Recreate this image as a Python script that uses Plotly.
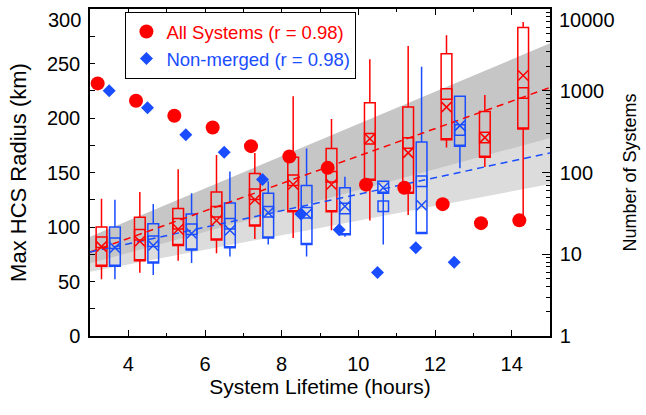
import math
import plotly.graph_objects as go

# ---------------- data ----------------
# Box statistics, "All Systems" (red)
RED_X    = [3.3, 4.3, 5.3, 6.3, 7.3, 8.3, 9.3, 10.3, 11.3, 12.3, 13.3, 14.3]
RED_LO   = [52, 58, 69, 76, 89, 90, 97, 106, 111, 173, 155, 106]
RED_Q1   = [64, 69, 83, 88, 101, 114, 114, 143, 131, 180, 164, 190]
RED_MED  = [86, 93, 103, 114, 130, 143, 146, 181, 177, 222, 182, 223]
RED_MEAN = [82, 87, 98, 106, 125, 139, 139, 181, 168, 210, 182, 239]
RED_Q3   = [100, 109, 117, 132, 149, 164, 172, 214, 210, 259, 206, 283]
RED_HI   = [126, 132, 153, 166, 168, 220, 199, 254, 266, 276, 221, 288]

# Box statistics, "Non-merged" (blue)
BLUE_X    = [3.65, 4.65, 5.65, 6.65, 7.65, 8.65, 9.65, 10.65, 11.65, 12.65]
BLUE_LO   = [52, 56, 67, 73, 84, 73, 91, 84, 94, 154]
BLUE_Q1   = [64, 67, 79, 81, 90, 84, 93, 131, 94, 174]
BLUE_MED  = [85, 87, 98, 103, 114, 113, 117, 119, 142, 189]
BLUE_MEAN = [81, 83, 94, 97, 113, 112, 119, 136, 120, 193]
BLUE_Q3   = [100, 103, 112, 122, 131, 138, 136, 142, 178, 220]
BLUE_HI   = [125, 121, 131, 151, 142, 172, 146, 142, 247, 220]

# Number of systems (right, log axis)
COUNT_ALL_X = [3.2, 4.2, 5.2, 6.2, 7.2, 8.2, 9.2, 10.2, 11.2, 12.2, 13.2, 14.2]
COUNT_ALL   = [1230, 755, 495, 355, 210, 157, 114, 71, 65, 41, 24, 26]
COUNT_NM_X  = [3.5, 4.5, 5.5, 6.5, 7.5, 8.5, 9.5, 10.5, 11.5, 12.5]
COUNT_NM    = [1000, 620, 290, 177, 82, 31, 20, 6, 12, 8]

# Linear fits and their uncertainty bands
FIT_X       = [3, 15]
FIT_ALL     = [77, 228]
FIT_NM      = [77, 168]
BAND_ALL_LO = [66.7, 181.7]
BAND_ALL_HI = [91.1, 268.5]
BAND_NM_LO  = [59, 139.4]
BAND_NM_HI  = [90, 195]

X_TICKS  = [4, 6, 8, 10, 12, 14]
Y_TICKS  = [0, 50, 100, 150, 200, 250, 300]
Y_TEXT   = ["0", "50", "100", "150", "200", "250", "300"]
Y2_TICKS = [1, 10, 100, 1000, 10000]
Y2_TEXT  = ["1", "10", "100", "1000", "10000"]

# ---------------- style ----------------
RED = "#ff0000"
BLUE = "#1a4dff"
DARK_BAND = "#c6c6c6"
LIGHT_BAND = "#dcdcdc"
FONT = "Liberation Sans, Arial, Helvetica, sans-serif"
BOX_W = 0.28


def band_path(xs, lo, hi):
    return (f"M {xs[0]},{lo[0]} L {xs[1]},{lo[1]} "
            f"L {xs[1]},{hi[1]} L {xs[0]},{hi[0]} Z")


fig = go.Figure()

# boxes (median is drawn as a square marker, as in the original, so the
# box outline itself carries no separate median line)
for xs, lo, q1, q3, hi, col in [
    (RED_X, RED_LO, RED_Q1, RED_Q3, RED_HI, RED),
    (BLUE_X, BLUE_LO, BLUE_Q1, BLUE_Q3, BLUE_HI, BLUE),
]:
    fig.add_trace(go.Box(
        x=xs, q1=q1, median=q1, q3=q3, lowerfence=lo, upperfence=hi,
        width=BOX_W, whiskerwidth=0, boxpoints=False,
        fillcolor="rgba(0,0,0,0)", line=dict(color=col, width=1.5),
        showlegend=False, hoverinfo="skip", yaxis="y",
    ))

# fit lines
fig.add_trace(go.Scatter(x=FIT_X, y=FIT_ALL, mode="lines",
                         line=dict(color=RED, width=1.5, dash="7px,5px"),
                         showlegend=False, hoverinfo="skip"))
fig.add_trace(go.Scatter(x=FIT_X, y=FIT_NM, mode="lines",
                         line=dict(color=BLUE, width=1.5, dash="7px,5px"),
                         showlegend=False, hoverinfo="skip"))

# medians (squares) and means (X)
for xs, med, mean, col in [(RED_X, RED_MED, RED_MEAN, RED),
                           (BLUE_X, BLUE_MED, BLUE_MEAN, BLUE)]:
    fig.add_trace(go.Scatter(
        x=xs, y=med, mode="markers",
        marker=dict(symbol="square-open", size=10.5, color=col,
                    line=dict(color=col, width=1.5)),
        showlegend=False, hoverinfo="skip"))
    fig.add_trace(go.Scatter(
        x=xs, y=mean, mode="markers",
        marker=dict(symbol="x-thin-open", size=10, color=col,
                    line=dict(color=col, width=1.5)),
        showlegend=False, hoverinfo="skip"))

# counts on the right log axis
fig.add_trace(go.Scatter(
    x=COUNT_ALL_X, y=COUNT_ALL, mode="markers", yaxis="y2",
    marker=dict(symbol="circle", size=14, color=RED),
    name=f'<span style="color:{RED}">All Systems (r = 0.98)</span>'))
fig.add_trace(go.Scatter(
    x=COUNT_NM_X, y=COUNT_NM, mode="markers", yaxis="y2",
    marker=dict(symbol="diamond", size=10, color=BLUE),
    name=f'<span style="color:{BLUE}">Non-merged (r = 0.98)</span>'))

# the top-most tick labels sit just below their ticks, inside the page
top_labels = [
    dict(text=Y_TEXT[-1], xref="paper", x=0, xanchor="right", xshift=-7,
         yref="y", y=Y_TICKS[-1], yanchor="top", yshift=2,
         showarrow=False, font=dict(size=20)),
    dict(text=Y2_TEXT[-1], xref="paper", x=1, xanchor="left", xshift=7,
         yref="y2", y=math.log10(Y2_TICKS[-1]), yanchor="top", yshift=2,
         showarrow=False, font=dict(size=20)),
]

fig.update_layout(
    width=646, height=415,
    margin=dict(l=90, r=96, t=9, b=79, autoexpand=False),
    paper_bgcolor="white", plot_bgcolor="white",
    font=dict(family=FONT, size=20, color="black"),
    boxmode="overlay",
    annotations=top_labels,
    shapes=[
        dict(type="path", path=band_path(FIT_X, BAND_NM_LO, BAND_NM_HI),
             xref="x", yref="y", fillcolor=LIGHT_BAND, line=dict(width=0),
             layer="below"),
        dict(type="path", path=band_path(FIT_X, BAND_ALL_LO, BAND_ALL_HI),
             xref="x", yref="y", fillcolor=DARK_BAND, line=dict(width=0),
             layer="below"),
    ],
    xaxis=dict(
        range=[3, 15], tickmode="array", tickvals=X_TICKS,
        ticks="inside", ticklen=6, tickwidth=1.2, tickcolor="black",
        minor=dict(dtick=1, tick0=0, ticks="inside", ticklen=3,
                   tickwidth=1.2, tickcolor="black"),
        showline=True, linecolor="black", linewidth=1.5, mirror="ticks",
        showgrid=False, zeroline=False, ticklabelstandoff=9,
        automargin=False, ticklabeloverflow="allow",
        title=dict(text="System Lifetime (hours)", standoff=6,
                   font=dict(size=21)),
    ),
    yaxis=dict(
        range=[0, 300], tickmode="array", tickvals=Y_TICKS,
        ticktext=Y_TEXT[:-1] + [""],
        ticks="inside", ticklen=5, tickwidth=1.2, tickcolor="black",
        minor=dict(dtick=25, tick0=0, ticks="inside", ticklen=5,
                   tickwidth=1.2, tickcolor="black"),
        showline=True, linecolor="black", linewidth=1.5,
        showgrid=False, zeroline=False, ticklabelstandoff=4,
        automargin=False, ticklabeloverflow="allow",
        title=dict(text="Max HCS Radius (km)", standoff=14,
                   font=dict(size=22)),
    ),
    yaxis2=dict(
        type="log", range=[0, 4], overlaying="y", side="right",
        tickmode="array", tickvals=Y2_TICKS,
        ticktext=Y2_TEXT[:-1] + [""],
        ticks="inside", ticklen=8, tickwidth=1.2, tickcolor="black",
        minor=dict(ticks="inside", ticklen=4, tickwidth=1.2,
                   tickcolor="black", dtick="D1"),
        showline=True, linecolor="black", linewidth=1.5,
        showgrid=False, zeroline=False, ticklabelstandoff=4,
        automargin=False, ticklabeloverflow="allow",
        title=dict(text="Number of Systems", standoff=20,
                   font=dict(size=18)),
    ),
    legend=dict(
        x=0.077, y=0.991, xanchor="left", yanchor="top",
        bgcolor="white", bordercolor="black", borderwidth=1,
        font=dict(size=18.5), itemwidth=30, tracegroupgap=0,
    ),
)

fig.write_html("out.html",
               config={"displayModeBar": False},
               post_script="document.body.style.margin='0';"
                           "document.body.style.overflow='hidden';")
